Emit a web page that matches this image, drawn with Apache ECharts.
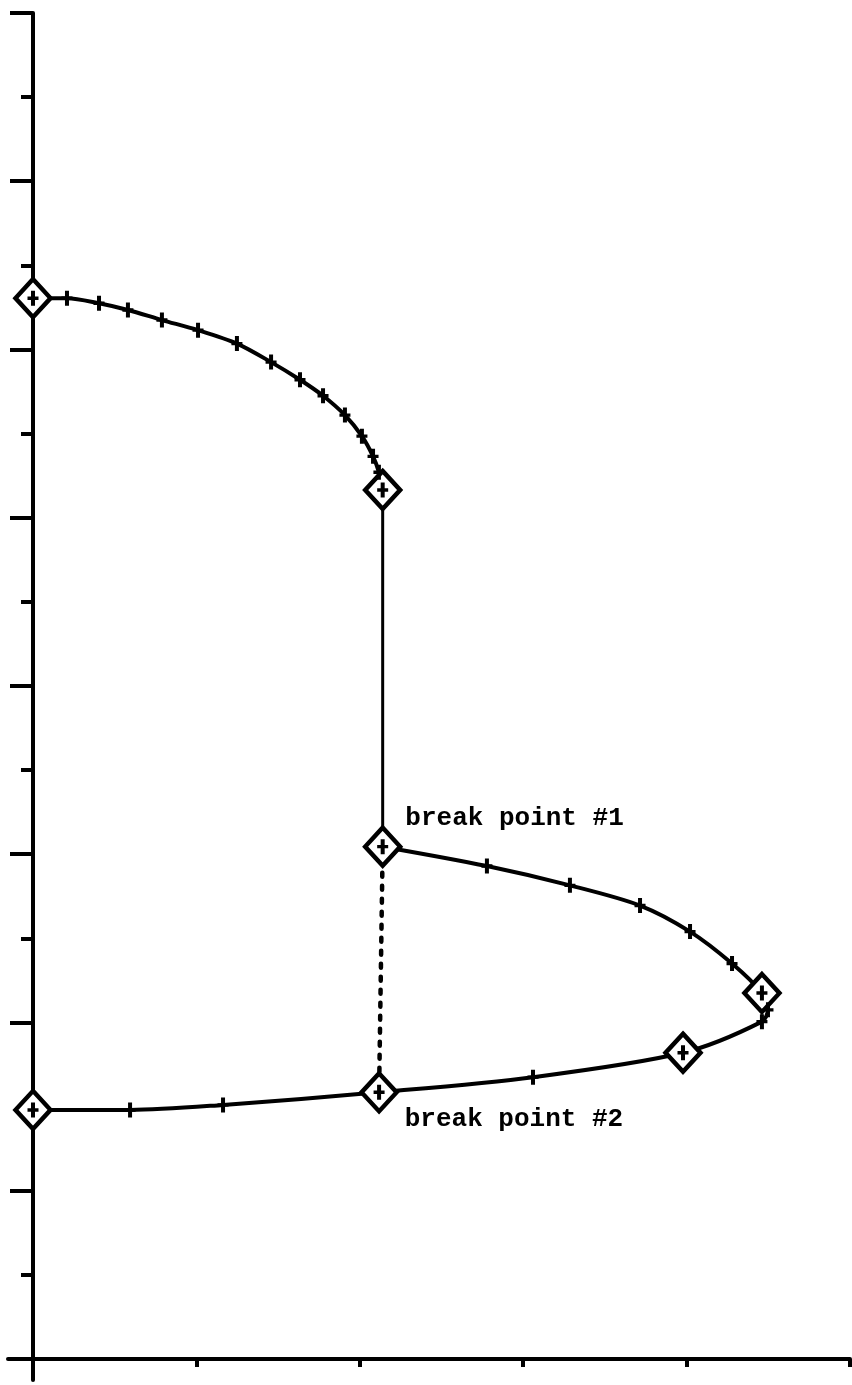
<!DOCTYPE html>
<html>
<head>
<meta charset="utf-8">
<script src="https://cdn.jsdelivr.net/npm/echarts@6/dist/echarts.min.js"></script>
<style>
  html, body { margin: 0; padding: 0; background: #fff; }
  #chart { width: 852px; height: 1385px; }
</style>
</head>
<body>
<div id="chart"></div>
<script>
// Upper branch: from the left-axis start down to the first turning point
const upperBranch = [
  [0.000, 12.61], [0.208, 12.61], [0.404, 12.55], [0.581, 12.47],
  [0.789, 12.35], [1.010, 12.23], [1.248, 12.07], [1.457, 11.85],
  [1.634, 11.64], [1.775, 11.45], [1.909, 11.22], [2.013, 10.97],
  [2.081, 10.73], [2.117, 10.54], [2.140, 10.33]
];
// Vertical jump from the upper branch down to break point #1
const dropSegment = [[2.140, 10.33], [2.140, 6.09]];
// Lower loop: break point #1 out to the right, round the nose, back to the axis
const lowerBranch = [
  [2.140, 6.09], [2.778, 5.86], [3.286, 5.63], [3.715, 5.39],
  [4.021, 5.08], [4.278, 4.70], [4.461, 4.35], [4.498, 4.15],
  [4.461, 4.01], [3.978, 3.64], [3.060, 3.35], [2.118, 3.17],
  [1.163, 3.02], [0.594, 2.96], [0.000, 2.96]
];
// Dotted link between the two break points
const breakLink = [[2.140, 6.09], [2.118, 3.17]];
// Points drawn with the diamond marker
const diamondPoints = [
  [0.000, 12.61], [2.140, 10.33], [2.140, 6.09], [4.461, 4.35],
  [3.978, 3.64], [2.118, 3.17], [0.000, 2.96]
];
const breakLabels = ['break point #1', 'break point #2'];
const xTicks = [0, 1, 2, 3, 4, 5];
const yMajorTicks = [0, 2, 4, 6, 8, 10, 12, 14, 16];
const yMinorTicks = [1, 3, 5, 7, 9, 11, 13, 15];

const INK = '#000';
const plusPath = 'path://M3.5,0 H7.5 V15 H3.5 Z M0,5.8 H11 V9.2 H0 Z';

const diamondData = diamondPoints.map(function (p, i) {
  const d = { value: p };
  if (i === 2) {
    d.label = { show: true, formatter: breakLabels[0], position: 'right', offset: [-2, -28] };
  } else if (i === 5) {
    d.label = { show: true, formatter: breakLabels[1], position: 'right', offset: [1, 27] };
  }
  return d;
});

const axisInk = { color: INK, width: 4 };

const chart = echarts.init(document.getElementById('chart'), null, { renderer: 'canvas' });
chart.setOption({
  backgroundColor: '#fff',
  animation: false,
  grid: { left: 8, right: 2, top: 13, bottom: 5, containLabel: false },
  xAxis: {
    type: 'value',
    min: -0.153, max: 5,
    axisLine: { show: true, onZero: true, lineStyle: axisInk },
    axisTick: { show: true, customValues: xTicks, length: 8, inside: false, lineStyle: axisInk },
    axisLabel: { show: false },
    splitLine: { show: false }
  },
  yAxis: [
    {
      // main vertical axis with the long (major) ticks
      type: 'value',
      min: -0.25, max: 16,
      axisLine: { show: true, onZero: true, lineStyle: axisInk },
      axisTick: { show: true, customValues: yMajorTicks, length: 23, lineStyle: axisInk },
      axisLabel: { show: false },
      splitLine: { show: false }
    },
    {
      // companion axis carrying only the short (minor) ticks, shifted onto x = 0
      type: 'value',
      position: 'left',
      offset: -25,
      min: -0.25, max: 16,
      axisLine: { show: false, onZero: false },
      axisTick: { show: true, customValues: yMinorTicks, length: 12, lineStyle: axisInk },
      axisLabel: { show: false },
      splitLine: { show: false }
    }
  ],
  series: [
    {
      type: 'line', data: upperBranch, smooth: 0.3, showSymbol: false, z: 2,
      lineStyle: { color: INK, width: 4 }
    },
    {
      type: 'line', data: dropSegment, showSymbol: false, z: 2,
      lineStyle: { color: INK, width: 3 }
    },
    {
      type: 'line', data: lowerBranch, smooth: 0.3, showSymbol: false, z: 2,
      lineStyle: { color: INK, width: 4 }
    },
    {
      type: 'line', data: breakLink, showSymbol: false, z: 2,
      lineStyle: { color: INK, width: 4.5, type: [4, 9], cap: 'round' }
    },
    {
      type: 'scatter', data: diamondData, symbol: 'diamond', symbolSize: [35, 38], z: 3,
      itemStyle: { color: '#fff', borderColor: INK, borderWidth: 4.5, opacity: 1 },
      label: {
        color: INK, fontFamily: 'Liberation Mono', fontSize: 26, fontWeight: 'bold'
      }
    },
    {
      type: 'scatter', data: upperBranch.concat(lowerBranch), symbol: plusPath,
      symbolSize: [11, 15], z: 4,
      itemStyle: { color: INK, opacity: 1 }
    }
  ]
});
</script>
</body>
</html>
